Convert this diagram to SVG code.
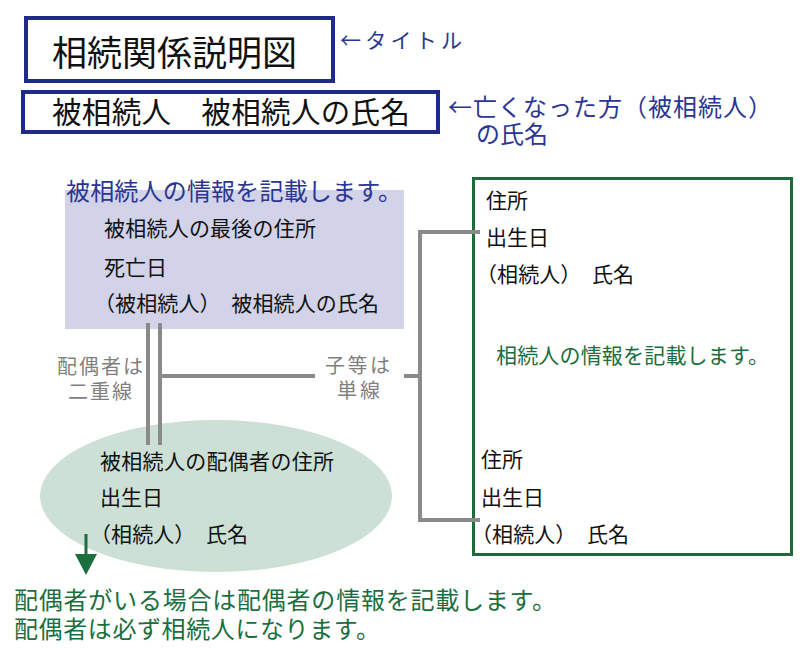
<svg xmlns="http://www.w3.org/2000/svg" width="800" height="651" viewBox="0 0 800 651">
<defs>
<style>
text{font-family:"Noto Sans CJK JP","Noto Sans",sans-serif;}
.blk{fill:#111;font-size:21px;}
.navy{fill:#2b3592;}
.gray{fill:#7f7f7f;font-size:20px;}
.grn{fill:#1b6e3e;}
.tbox{fill:#fff;stroke:#1f2b88;stroke-width:4;}
.conn{stroke:#8a8a8a;stroke-width:4;fill:none;}
</style>
</defs>
<rect width="800" height="651" fill="#fff"/>

<g id="title">
<rect class="tbox" x="26" y="18" width="307" height="63"/>
<text x="52" y="66" font-size="35" fill="#111">相続関係説明図</text>
</g>
<g id="title-note">
<text class="navy" x="340" y="48" font-size="21" textLength="122" lengthAdjust="spacing">←タイトル</text>
</g>

<g id="deceased-name">
<rect class="tbox" x="23" y="92" width="415" height="40"/>
<text x="52" y="123" font-size="29.5" fill="#111" textLength="358" lengthAdjust="spacing">被相続人　被相続人の氏名</text>
</g>
<g id="deceased-note">
<text class="navy" x="448" y="116" font-size="24" textLength="324" lengthAdjust="spacing">←亡くなった方（被相続人）</text>
<text class="navy" x="476" y="143" font-size="24" textLength="72" lengthAdjust="spacing">の氏名</text>
</g>

<g id="deceased">
<rect x="65" y="190" width="339" height="139" fill="#d2d2e8"/>
<text class="navy" x="66" y="200" font-size="24" textLength="336" lengthAdjust="spacing">被相続人の情報を記載します。</text>
<text class="blk" x="104" y="236" textLength="212" lengthAdjust="spacing">被相続人の最後の住所</text>
<text class="blk" x="104" y="275">死亡日</text>
<text class="blk" x="94" y="311" textLength="285" lengthAdjust="spacing">（被相続人）　被相続人の氏名</text>
</g>

<g id="spouse">
<ellipse cx="216" cy="496" rx="176" ry="76" fill="#cde0d5"/>
<text class="blk" x="100" y="469" textLength="234" lengthAdjust="spacing">被相続人の配偶者の住所</text>
<text class="blk" x="100" y="505">出生日</text>
<text class="blk" x="90" y="542" textLength="158" lengthAdjust="spacing">（相続人）　氏名</text>
</g>

<g id="heirs">
<rect x="473.5" y="178.5" width="318" height="376" fill="#fff" stroke="#1e6b3a" stroke-width="3"/>
<text class="blk" x="486" y="208">住所</text>
<text class="blk" x="486" y="245">出生日</text>
<text class="blk" x="476" y="282" textLength="158" lengthAdjust="spacing">（相続人）　氏名</text>
<text class="grn" x="496" y="363" font-size="21" textLength="273" lengthAdjust="spacing">相続人の情報を記載します。</text>
<text class="blk" x="481" y="467">住所</text>
<text class="blk" x="481" y="505">出生日</text>
<text class="blk" x="471" y="542" textLength="158" lengthAdjust="spacing">（相続人）　氏名</text>
</g>

<g id="connectors">
<line class="conn" x1="148" y1="323" x2="148" y2="445"/>
<line class="conn" x1="160" y1="323" x2="160" y2="445"/>
<line class="conn" x1="160" y1="376" x2="315" y2="376"/>
<line class="conn" x1="404" y1="376" x2="420" y2="376"/>
<polyline class="conn" points="480,232 420,232 420,520 480,520"/>
<text class="gray" x="57" y="374" textLength="86" lengthAdjust="spacing">配偶者は</text>
<text class="gray" x="68" y="399" textLength="64" lengthAdjust="spacing">二重線</text>
<text class="gray" x="325" y="373" textLength="65" lengthAdjust="spacing">子等は</text>
<text class="gray" x="337" y="398" textLength="43" lengthAdjust="spacing">単線</text>
</g>

<g id="spouse-note">
<line x1="86" y1="534" x2="86" y2="556" stroke="#1b6e3e" stroke-width="3"/>
<polygon points="75,554 97,554 86,575" fill="#1b6e3e"/>
<text class="grn" x="14" y="609" font-size="24" textLength="542" lengthAdjust="spacing">配偶者がいる場合は配偶者の情報を記載します。</text>
<text class="grn" x="14" y="638" font-size="24" textLength="366" lengthAdjust="spacing">配偶者は必ず相続人になります。</text>
</g>
</svg>
